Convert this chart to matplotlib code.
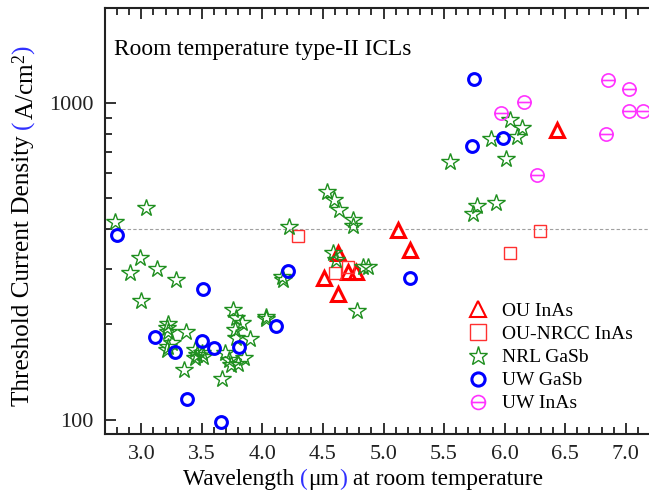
import matplotlib
matplotlib.use("Agg")
import matplotlib.pyplot as plt
from matplotlib.path import Path
from matplotlib.ticker import MultipleLocator, NullFormatter, FuncFormatter

plt.rcParams['font.family'] = ['Liberation Serif', 'DejaVu Serif']
plt.rcParams['mathtext.fontset'] = 'custom'
plt.rcParams['mathtext.rm'] = 'Liberation Serif'
plt.rcParams['mathtext.it'] = 'Liberation Serif:italic'

# OU InAs
ou_x = [4.51, 4.62, 4.62, 4.71, 4.77, 5.12, 5.22, 6.43]
ou_y = [281, 335, 250, 293, 293, 397, 343, 822]

# OU-NRCC InAs
nrcc_x = [4.29, 4.60, 4.71, 6.04, 6.29]
nrcc_y = [381, 291, 304, 335, 395]

# NRL GaSb
nrl_x = [2.78, 3.04, 2.91, 2.99, 3.13, 3.29, 3.00, 3.22, 3.21, 3.22, 3.37, 3.22,
         3.21, 3.25, 3.35, 3.44, 3.46, 3.44, 3.51, 3.50, 3.67, 3.76, 3.78, 3.83,
         3.77, 3.78, 3.90, 3.69, 3.72, 3.74, 3.80, 3.85, 4.03, 4.03, 4.16, 4.17,
         4.22, 4.53, 4.59, 4.63, 4.75, 4.75, 4.58, 4.61, 4.83, 4.87, 4.78, 5.55,
         5.77, 5.74, 5.93, 5.89, 6.01, 6.04, 6.14, 6.10]
nrl_y = [421, 468, 291, 323, 299, 277, 237, 200, 194, 189, 189, 170,
         166, 174, 143, 166, 160, 157, 158, 162, 134, 222, 209, 202,
         192, 181, 180, 162, 154, 149, 150, 156, 211, 208, 283, 277,
         405, 525, 496, 459, 427, 409, 335, 320, 304, 304, 221, 653,
         474, 446, 484, 770, 665, 884, 832, 783]

# UW GaSb
uwg_x = [2.80, 3.11, 3.28, 3.38, 3.50, 3.51, 3.60, 3.66, 3.81, 4.11, 4.21,
         5.22, 5.73, 5.75, 5.99]
uwg_y = [383, 183, 163, 116, 177, 259, 168, 98, 169, 198, 295,
         281, 733, 1197, 779]

# UW InAs
uwi_x = [5.97, 6.16, 6.27, 6.85, 7.03, 6.84, 7.03, 7.14]
uwi_y = [928, 1009, 592, 1182, 1107, 802, 946, 946]

ref_level = 400

theta = Path.make_compound_path(Path.unit_circle(),
                                Path([[-1, 0], [1, 0]], [Path.MOVETO, Path.LINETO]))

fig = plt.figure(figsize=(6.49, 4.96), dpi=100)
ax = fig.add_axes([105 / 649, 62 / 496, 545 / 649, 426 / 496])

ax.axhline(ref_level, color='#a0a0a0', ls='--', lw=0.8, dashes=(3, 2), zorder=1)

ax.plot(ou_x, ou_y, ls='none', marker='^', ms=10, mfc='none', mec='#ff0000',
        mew=2.2, label='OU InAs')
ax.plot(nrcc_x, nrcc_y, ls='none', marker='s', ms=8.5, mfc='none', mec='#ff3030',
        mew=1.0, label='OU-NRCC InAs')
ax.plot(nrl_x, nrl_y, ls='none', marker='*', ms=13, mfc='none', mec='#1f8f1f',
        mew=1.0, label='NRL GaSb')
ax.plot(uwg_x, uwg_y, ls='none', marker='o', ms=8.5, mfc='none', mec='#0000ff',
        mew=2.2, label='UW GaSb')
ax.plot(uwi_x, uwi_y, ls='none', marker=theta, ms=9.5, mfc='none', mec='#ff33ff',
        mew=1.2, label='UW InAs')

ax.set_yscale('log')
ax.set_xlim(2.7, 7.2)
ax.set_ylim(90, 2000)

ax.xaxis.set_major_locator(MultipleLocator(0.5))
ax.xaxis.set_minor_locator(MultipleLocator(0.1))
ax.xaxis.set_major_formatter(FuncFormatter(lambda v, p: '%.1f' % v))
ax.yaxis.set_major_formatter(FuncFormatter(lambda v, p: '%d' % v))
ax.yaxis.set_minor_formatter(NullFormatter())

ax.tick_params(which='both', direction='in', top=True, right=False,
               width=1.3, colors='#222222', labelsize=16, pad=8)
ax.tick_params(which='major', length=8)
ax.tick_params(which='minor', length=5)
for s in ['left', 'bottom', 'top']:
    ax.spines[s].set_linewidth(1.5)
    ax.spines[s].set_color('#222222')
ax.spines['right'].set_visible(False)

fig.text(114 / 649, (496 - 55) / 496, 'Room temperature type-II ICLs',
         fontsize=16.8, ha='left', va='baseline')

leg = ax.legend(loc='upper left', bbox_to_anchor=(455 / 649, (496 - 289) / 496),
                bbox_transform=fig.transFigure, frameon=False, fontsize=14,
                handlelength=1.0, handletextpad=0.7, labelspacing=0.28,
                borderpad=0.2, numpoints=1)
lh = leg.legend_handles
lh[0].set_markersize(12)
lh[0].set_markeredgewidth(1.5)
lh[1].set_markersize(11)
lh[2].set_markersize(14)
lh[3].set_markersize(9.5)
lh[4].set_markersize(10)


def colored_label(pieces, x, y, rotation=0, size=18):
    last = None
    for s, c in pieces:
        if last is None:
            last = fig.text(x, y, s, color=c, fontsize=size, rotation=rotation,
                            ha='left', va='bottom')
        elif rotation == 0:
            last = ax.annotate(s, xy=(1, 0), xycoords=last, color=c,
                               fontsize=size, ha='left', va='bottom')
        else:
            last = ax.annotate(s, xy=(0, 1), xycoords=last, color=c,
                               fontsize=size, rotation=rotation,
                               ha='left', va='bottom')


colored_label([('Wavelength ', 'black'), ('(', '#3030ff'), ('\u03bcm', 'black'),
               (')', '#3030ff'), (' at room temperature', 'black')],
              183 / 649, 6 / 496, size=16.8)
colored_label([('Threshold Current Density ', 'black'), ('(', '#3030ff'),
               ('A/cm$^2$', 'black'), (')', '#3030ff')],
              12 / 649, (496 - 406) / 496, rotation=90, size=18.2)

fig.savefig('out.png', dpi=100)
